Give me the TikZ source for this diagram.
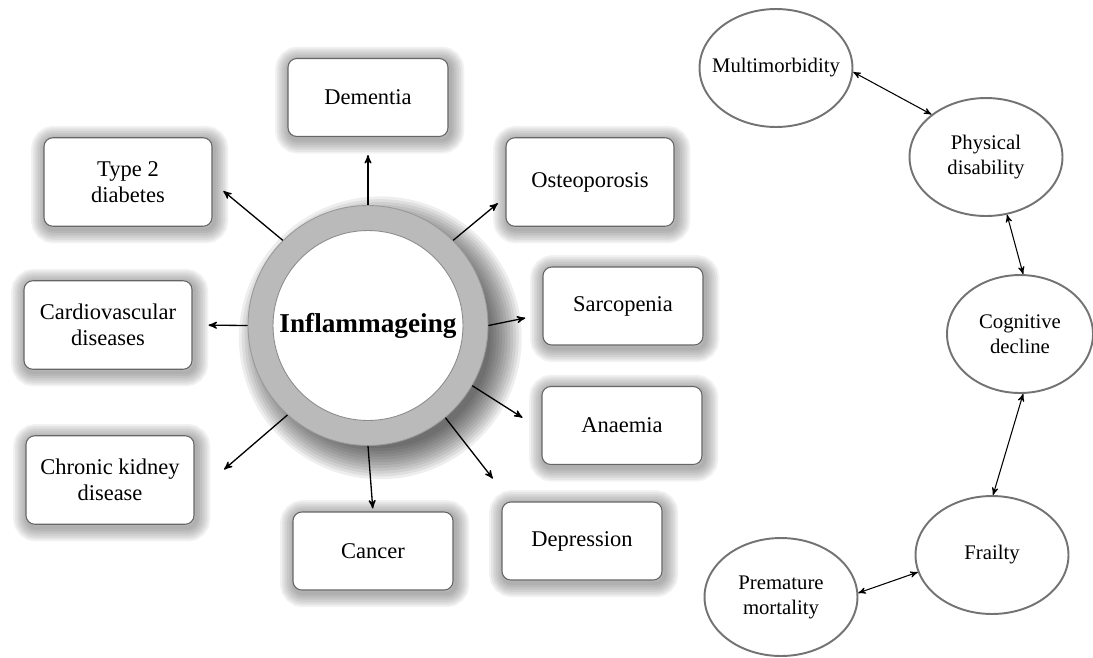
\documentclass[tikz,border=0pt]{standalone}
\usepackage{fontspec}
\setmainfont{Liberation Serif}
\usetikzlibrary{arrows,positioning,shapes.geometric,backgrounds}

\begin{document}
\begin{tikzpicture}[>=stealth',x=0.02cm,y=-0.02cm,
    condbox/.style={rectangle,rounded corners=5pt,draw=black!60,fill=white,line width=0.6pt,
      minimum width=3.2cm,minimum height=1.56cm,align=center,inner sep=2pt,
      font=\fontsize{12.8pt}{14.8pt}\selectfont},
    bigbox/.style={condbox,minimum width=3.36cm,minimum height=1.77cm},
    ring/.style={circle,minimum size=4.8cm,fill=black!27,draw=black!40,line width=0.5pt},
    core/.style={circle,minimum size=3.8cm,fill=white,draw=black!45,line width=0.5pt,inner sep=0pt,
      font=\fontsize{15.5pt}{18pt}\selectfont\bfseries},
    outcome/.style={ellipse,draw=black!55,line width=1.1pt,fill=white,minimum width=3.06cm,
      minimum height=2.36cm,align=center,inner sep=0pt,inner xsep=-6pt,
      font=\fontsize{11.8pt}{14.2pt}\selectfont},
    glow/.style={draw=black!70,opacity=0.07,rounded corners=5pt}]
    \useasboundingbox (0,0) rectangle (1093,657);

    % conditions linked to inflammageing
    \node[condbox] (dem) at (368,97.5) {Dementia};
    \node[bigbox] (osteo) at (590,182) {Osteoporosis};
    \node[bigbox] (tdiab) at (128,182) {Type 2\\diabetes};
    \node[bigbox] (cardio) at (108,325) {Cardiovascular\\diseases};
    \node[bigbox] (ckd) at (110,480) {Chronic kidney\\disease};
    \node[condbox] (sarc) at (623,306) {Sarcopenia};
    \node[condbox] (anaem) at (622,425.5) {Anaemia};
    \node[condbox] (cancer) at (373,551) {Cancer};
    \node[condbox] (depr) at (582,541) {Depression};

    \node[ring] (ring) at (368,325.5) {};
    \node[core] (core) at (368,325.5) {Inflammageing};

    % soft shadows
    \begin{pgfonlayer}{background}
      \foreach \n in {dem,osteo,tdiab,cardio,ckd,sarc,anaem,cancer,depr}
        \foreach \k in {1,...,8}
          \draw[glow,line width=\k*2pt] ([shift={(1pt,-1.5pt)}]\n.north west) rectangle ([shift={(1pt,-1.5pt)}]\n.south east);
      \foreach \k in {1,...,12}
        \fill[black,opacity=0.065] ([shift={(7pt,-7pt)}]ring.center) circle (2.4cm+\k*1.6pt-7pt);
    \end{pgfonlayer}

    % outcomes
    \node[outcome] (multi) at (776,68) {Multimorbidity};
    \node[outcome] (phys) at (986,157) {Physical\\disability};
    \node[outcome,minimum width=2.92cm] (cog) at (1020,334) {Cognitive\\decline};
    \node[outcome] (frail) at (992,555) {Frailty};
    \node[outcome] (prem) at (781,597) {Premature\\mortality};

    \tikzset{outarrow/.style={->,line width=0.75pt}}
    \path (ring.90) edge [outarrow,shorten >=0.36cm] (dem.south);
    \path (ring.45) edge [outarrow,shorten >=0.2cm] (osteo.190);
    \path (ring.135) edge [outarrow,shorten >=0.28cm] (tdiab.east);
    \path (ring.180) edge [outarrow,shorten >=0.32cm] (cardio.east);
    \path (ring.228) edge [outarrow,shorten >=0.78cm] (ckd.350);
    \path (ring.0) edge [outarrow,shorten >=0.35cm] (sarc.186);
    \path (ring.330) edge [outarrow,shorten >=0.45cm] (anaem.183);
    \path (ring.310) edge [outarrow,shorten >=0.58cm] (depr.151);
    \path (ring.270) edge [outarrow,shorten >=0.06cm] (cancer.north);

    \tikzset{linkarrow/.style={<->,line width=0.6pt}}
    \path (multi.357) edge [linkarrow] (phys.142);
    \path (phys.290) edge [linkarrow] (cog.87);
    \path (cog.273) edge [linkarrow] (frail.89);
    \path (prem.3) edge [linkarrow] (frail.193);

\end{tikzpicture}
\end{document}
